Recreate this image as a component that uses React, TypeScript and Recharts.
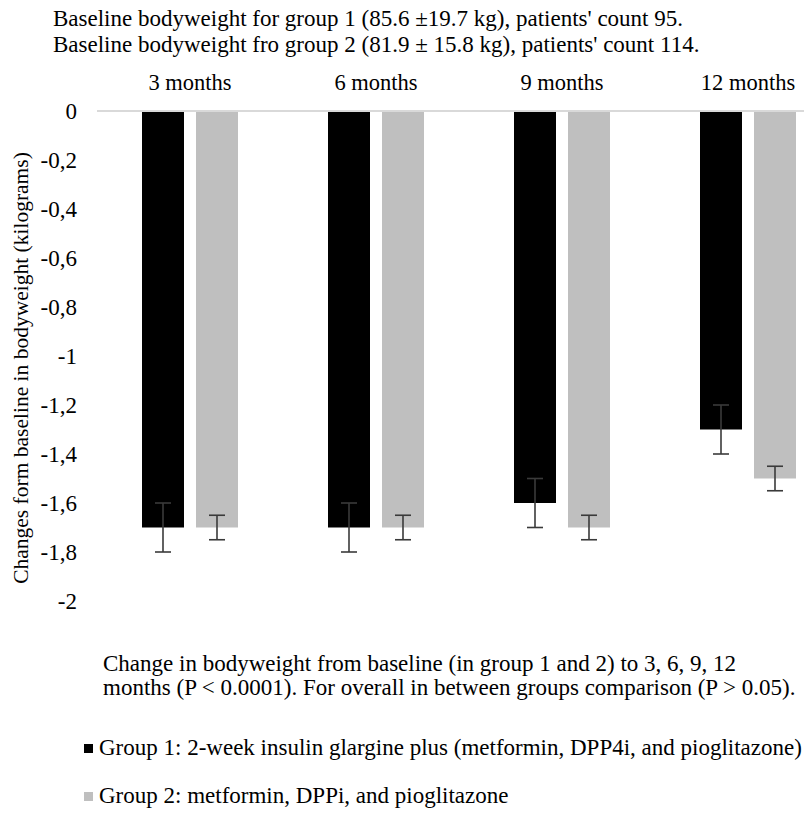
import React from 'react';
import { BarChart, Bar, XAxis, YAxis, ErrorBar } from 'recharts';

const categories = ['3 months', '6 months', '9 months', '12 months'];
const group1 = [-1.7, -1.7, -1.6, -1.3];
const group2 = [-1.7, -1.7, -1.7, -1.5];
const group1Err = [0.1, 0.1, 0.1, 0.1];
const group2Err = [0.05, 0.05, 0.05, 0.05];
const yTicks = [0, -0.2, -0.4, -0.6, -0.8, -1, -1.2, -1.4, -1.6, -1.8, -2];

const seriesNames = [
  'Group 1: 2-week insulin glargine plus (metformin, DPP4i, and pioglitazone)',
  'Group 2: metformin, DPPi, and pioglitazone',
];
const seriesColors = ['#000000', '#bfbfbf'];

const data = categories.map((c, i) => ({
  name: c,
  g1: group1[i],
  g2: group2[i],
  e1: group1Err[i],
  e2: group2Err[i],
}));

const font = '"Liberation Serif", "Times New Roman", serif';
const fs = 23;

// rotated y axis title
const YTitle = (props: any) => {
  const { x, y, height } = props.viewBox;
  const cx = x + 21;
  const cy = y + height / 2 + 12;
  return (
    <text
      x={cx}
      y={cy}
      transform={`rotate(-90, ${cx}, ${cy})`}
      textAnchor="middle"
      dominantBaseline="central"
      fill="#000"
      fontSize={21.5}
      fontFamily={font}
    >
      Changes form baseline in bodyweight (kilograms)
    </text>
  );
};

export default function App() {
  return (
    <div
      style={{
        position: 'absolute',
        left: 0,
        top: 0,
        width: 804,
        height: 823,
        overflow: 'hidden',
        background: '#fff',
        fontFamily: font,
        color: '#000',
        fontSize: fs,
      }}
    >
      <div style={{ position: 'absolute', left: 53, top: 6, lineHeight: '26px', whiteSpace: 'nowrap' }}>
        Baseline bodyweight for group 1 (85.6 ±19.7 kg), patients' count 95.
        <br />
        Baseline bodyweight fro group 2 (81.9 ± 15.8 kg), patients' count 114.
      </div>

      <div style={{ position: 'absolute', left: 0, top: 0 }}>
        <BarChart
          width={841}
          height={620}
          data={data}
          margin={{ top: 60, right: 0, bottom: 19, left: 0 }}
          barSize={42}
          barGap={12}
        >
          <XAxis
            dataKey="name"
            orientation="top"
            height={51}
            axisLine={{ stroke: '#d9d9d9', strokeWidth: 2 }}
            tickLine={false}
            tickSize={0}
            tickMargin={21}
            tick={{ fill: '#000', fontSize: 22.5, fontFamily: font }}
          />
          <YAxis
            width={97}
            domain={[-2, 0]}
            ticks={yTicks}
            interval={0}
            axisLine={false}
            tickLine={false}
            tickSize={0}
            tickMargin={20}
            tickFormatter={(v: number) => String(v).replace('.', ',')}
            tick={{ fill: '#000', fontSize: 23, fontFamily: font }}
            label={{ content: YTitle }}
          />
          <Bar dataKey="g1" fill={seriesColors[0]} isAnimationActive={false}>
            <ErrorBar dataKey="e1" width={8} stroke="#3a3a3a" strokeWidth={1.6} />
          </Bar>
          <Bar dataKey="g2" fill={seriesColors[1]} isAnimationActive={false}>
            <ErrorBar dataKey="e2" width={8} stroke="#3a3a3a" strokeWidth={1.6} />
          </Bar>
        </BarChart>
      </div>

      <div style={{ position: 'absolute', left: 103, top: 652, lineHeight: '24px', whiteSpace: 'nowrap' }}>
        Change in bodyweight from baseline (in group 1 and 2) to 3, 6, 9, 12
        <br />
        months (P &lt; 0.0001). For overall in between groups comparison (P &gt; 0.05).
      </div>

      {seriesNames.map((n, i) => (
        <div
          key={n}
          style={{
            position: 'absolute',
            left: 84,
            top: 735 + i * 48,
            height: 26,
            lineHeight: '26px',
            whiteSpace: 'nowrap',
            display: 'flex',
            alignItems: 'center',
          }}
        >
          <span style={{ display: 'inline-block', width: 9, height: 9, background: seriesColors[i], marginRight: 6 }} />
          {n}
        </div>
      ))}
    </div>
  );
}
